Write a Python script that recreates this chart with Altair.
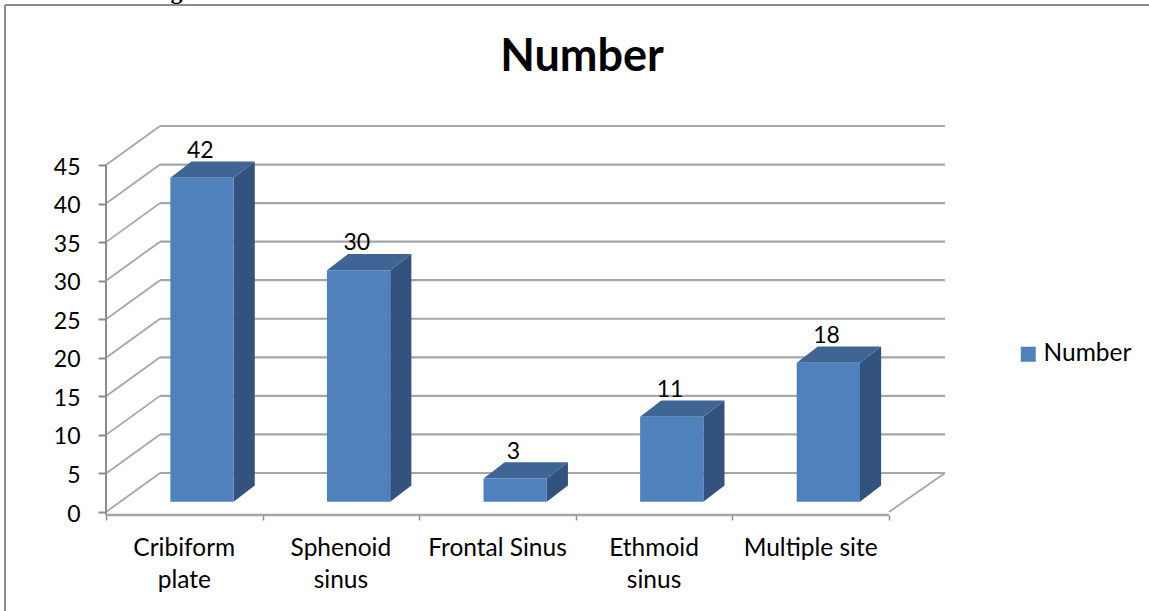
import altair as alt
import pandas as pd

# Site counts
categories = ["Cribiform\nplate", "Sphenoid\nsinus", "Frontal Sinus", "Ethmoid\nsinus", "Multiple site"]
values = [42, 30, 3, 11, 18]
y_ticks = [0, 5, 10, 15, 20, 25, 30, 35, 40, 45]
series_name = "Number"

# Pseudo-3D projection, in axis units
WALL_DX, WALL_DY = 0.345, 5.06     # shift of the back wall
WALL_END = 5.358                   # right end of the back wall
BAR_SHIFT_X, BAR_SHIFT_Y = 0.113, 1.34  # shift of a bar's front face off the axis plane
BAR_DX, BAR_DY = 0.135, 2.11       # depth of a bar
BAR_W = 0.404
N = len(categories)

BLUE, TOP, SIDE = "#4F81BD", "#3E6594", "#33527D"
GRID = "#A6A6A6"
AXIS = "#8C8C8C"
FONT = "Lato"

X = alt.Scale(domain=[0, WALL_END], nice=False, zero=False)
Y = alt.Scale(domain=[0, 45 + WALL_DY], nice=False, zero=False)

front, top, side, labels, names = [], [], [], [], []
for i, (cat, v) in enumerate(zip(categories, values)):
    c = i + 0.5 + BAR_SHIFT_X
    l, r = c - BAR_W / 2, c + BAR_W / 2
    y0, y1 = BAR_SHIFT_Y, v + BAR_SHIFT_Y
    front.append(dict(l=l, r=r, y0=y0, y1=y1, series=series_name))
    top.append(dict(k=i, y=y1, x=l, x2=r))
    top.append(dict(k=i, y=y1 + BAR_DY, x=l + BAR_DX, x2=r + BAR_DX))
    side.append(dict(k=i, x=r, y=y0, y2=y1))
    side.append(dict(k=i, x=r + BAR_DX, y=y0 + BAR_DY, y2=y1 + BAR_DY))
    labels.append(dict(x=c - 0.011, y=y1, text=str(v)))
    names.append(dict(x=i + 0.5, y=0, text=cat))

back_lines = pd.DataFrame(
    [dict(x=WALL_DX, x2=WALL_END, y=t + WALL_DY) for t in y_ticks]
)
side_lines = pd.DataFrame(
    [dict(x=0, x2=WALL_DX, y=t, y2=t + WALL_DY) for t in y_ticks]
    + [dict(x=N, x2=WALL_END, y=0, y2=WALL_DY)]
)

x_axis = alt.Axis(
    values=list(range(N + 1)), labels=False, title=None, grid=False, domain=False,
    ticks=True, tickColor=AXIS, tickSize=5, tickWidth=1.5, offset=3,
)
y_axis = alt.Axis(
    values=y_ticks, title=None, grid=False, domain=False, tickColor=AXIS, tickSize=8,
    tickWidth=2, labelFont=FONT, labelFontSize=23, labelColor="#000000", labelPadding=18,
    labelOffset=2,
)

back = alt.Chart(back_lines).mark_rule(color=GRID, strokeWidth=2.2).encode(
    x=alt.X("x:Q", scale=X, axis=x_axis),
    x2="x2:Q",
    y=alt.Y("y:Q", scale=Y, axis=y_axis),
)
walls = alt.Chart(side_lines).mark_rule(color=GRID, strokeWidth=1.8).encode(
    x=alt.X("x:Q", scale=X), x2="x2:Q", y=alt.Y("y:Q", scale=Y), y2="y2:Q"
)
y_line = alt.Chart(pd.DataFrame([dict(x=0, y=45, y2=-0.4)])).mark_rule(color=AXIS, strokeWidth=2).encode(
    x=alt.X("x:Q", scale=X), y=alt.Y("y:Q", scale=Y), y2="y2:Q"
)
x_line = alt.Chart(pd.DataFrame([dict(x=0, x2=N, y=0)])).mark_rule(color=GRID, strokeWidth=2.4, yOffset=3).encode(
    x=alt.X("x:Q", scale=X), x2="x2:Q", y=alt.Y("y:Q", scale=Y)
)

side_faces = alt.Chart(pd.DataFrame(side)).mark_area(color=SIDE).encode(
    x=alt.X("x:Q", scale=X), y=alt.Y("y:Q", scale=Y), y2="y2:Q", detail="k:N"
)
top_faces = alt.Chart(pd.DataFrame(top)).mark_area(color=TOP, orient="horizontal").encode(
    y=alt.Y("y:Q", scale=Y), x=alt.X("x:Q", scale=X), x2="x2:Q", detail="k:N"
)
front_faces = alt.Chart(pd.DataFrame(front)).mark_rect().encode(
    x=alt.X("l:Q", scale=X), x2="r:Q", y=alt.Y("y0:Q", scale=Y), y2="y1:Q",
    color=alt.Color(
        "series:N",
        scale=alt.Scale(domain=[series_name], range=[BLUE]),
        legend=alt.Legend(
            title=None, orient="none", legendX=910, legendY=216, symbolType="square",
            symbolSize=225, symbolStrokeWidth=0, labelFont=FONT, labelFontSize=24.5,
            labelColor="#000000", labelOffset=3,
        ),
    ),
)

value_text = alt.Chart(pd.DataFrame(labels)).mark_text(
    font=FONT, fontSize=23, color="#000000", dy=-20, baseline="alphabetic"
).encode(x=alt.X("x:Q", scale=X), y=alt.Y("y:Q", scale=Y), text="text:N")

name_text = alt.Chart(pd.DataFrame(names)).mark_text(
    font=FONT, fontSize=24.5, color="#000000", dy=44, baseline="alphabetic",
    lineBreak="\n", lineHeight=32,
).encode(x=alt.X("x:Q", scale=X), y=alt.Y("y:Q", scale=Y), text="text:N")

# Outer frame: only the top and left edges reach the page
frame_top = alt.Chart(pd.DataFrame([{"a": 0}])).mark_rule(color=AXIS, strokeWidth=2).encode(
    x=alt.value(-101), x2=alt.value(1043), y=alt.value(-121)
)
frame_left = alt.Chart(pd.DataFrame([{"a": 0}])).mark_rule(color=AXIS, strokeWidth=2).encode(
    x=alt.value(-101), y=alt.value(-121), y2=alt.value(485)
)

# Descender of the heading above the frame, cut by the page edge
heading_tail = alt.Chart(pd.DataFrame([{"text": "g"}])).mark_text(
    font="Liberation Serif", fontSize=24, fontWeight="bold", color="#000000", baseline="alphabetic"
).encode(x=alt.value(70.5), y=alt.value(-127), text="text:N")

chart = alt.layer(
    frame_top, frame_left, heading_tail, back, walls, y_line, x_line,
    side_faces, top_faces, front_faces, value_text, name_text,
).properties(
    width=839, height=386,
    padding={"left": 106, "top": 126, "right": 204, "bottom": 99},
    autosize=alt.AutoSizeParams(type="none"),
    background="white",
    title=alt.TitleParams(
        series_name, font=FONT, fontSize=45, fontWeight="bold", color="#000000",
        anchor="middle", offset=-136, dx=56.5, baseline="alphabetic",
    ),
).configure_view(stroke=None)

chart.save("out.html", embed_options={"renderer": "svg", "actions": False})
